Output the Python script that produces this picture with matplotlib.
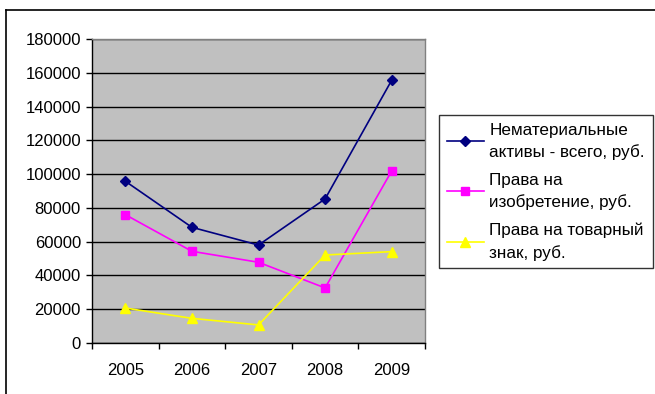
import numpy as np
import matplotlib.pyplot as plt
from matplotlib.lines import Line2D

plt.rcParams['font.family'] = ['Liberation Sans', 'DejaVu Sans']

years = ['2005', '2006', '2007', '2008', '2009']
total_assets = [95800, 68500, 58000, 85300, 155600]
inventions = [76000, 54300, 47800, 32600, 101900]
trademarks = [20700, 14600, 10700, 52100, 54100]

labels = ['Нематериальные\nактивы - всего, руб.',
          'Права на\nизобретение, руб.',
          'Права на товарный\nзнак, руб.']
yticks = np.arange(0, 180001, 20000)

fig = plt.figure(figsize=(6.55, 3.94), dpi=100)
ax = fig.add_axes([92/655, 51/394, 333/655, 304/394])
ax.set_facecolor('#c0c0c0')

x = np.arange(len(years))
ax.plot(x, total_assets, color='#000080', marker='D', markersize=5.5, lw=1.2, label=labels[0])
ax.plot(x, inventions, color='#ff00ff', marker='s', markersize=6, lw=1.2, label=labels[1])
ax.plot(x, trademarks, color='#ffff00', marker='^', markersize=7, lw=1.2, label=labels[2])

ax.set_xlim(-0.5, len(years) - 0.5)
ax.set_ylim(0, 180000)
ax.set_yticks(yticks)
ax.set_yticklabels([str(v) for v in yticks], fontsize=12)
ax.yaxis.grid(True, color='black', lw=1)
ax.set_axisbelow(True)

# category labels centred, ticks on the boundaries between categories
ax.set_xticks(np.arange(-0.5, len(years)), minor=False)
ax.set_xticklabels([])
ax.set_xticks(x, minor=True)
ax.set_xticklabels(years, minor=True, fontsize=12)
ax.tick_params(axis='x', which='major', direction='out', length=4, width=1)
ax.tick_params(axis='x', which='minor', length=0, pad=14.5)
ax.tick_params(axis='y', direction='out', length=4, width=1, pad=4)

for s in ['left', 'bottom']:
    ax.spines[s].set_color('black')
    ax.spines[s].set_linewidth(1)
for s in ['right', 'top']:
    ax.spines[s].set_color('#808080')
    ax.spines[s].set_linewidth(1)

leg = fig.legend(loc='upper left', bbox_to_anchor=(439/655, 1 - 115/394),
                 fontsize=12.3, frameon=True, fancybox=False, edgecolor='black',
                 handlelength=2.2, handletextpad=0.3, borderpad=0.45,
                 labelspacing=0.75, borderaxespad=0)
leg.get_frame().set_linewidth(1)
for t in leg.get_texts():
    t.set_linespacing(1.5)

# chart area frame
fig.add_artist(Line2D([6/655, 6/655], [0, 1 - 10/394], color='black', lw=1.2,
                      transform=fig.transFigure))
fig.add_artist(Line2D([6/655, 1], [1 - 10/394, 1 - 10/394], color='black', lw=1.2,
                      transform=fig.transFigure))

fig.savefig('out.png', dpi=100)
